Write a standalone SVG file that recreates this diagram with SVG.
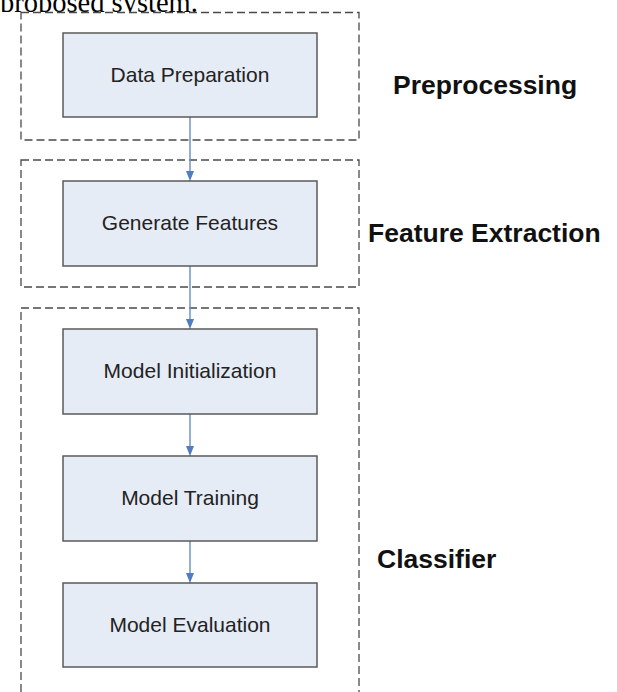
<svg xmlns="http://www.w3.org/2000/svg" width="617" height="692" viewBox="0 0 617 692">
  <style>
    .frame { fill: none; stroke: #4a4a4a; stroke-width: 1.3; stroke-dasharray: 8 4; }
    .box rect { fill: #E6ECF6; stroke: #5a5a5a; stroke-width: 1.5; }
    .box text { font-family: "Liberation Sans", Arial, sans-serif; font-size: 21px; fill: #222; text-anchor: middle; }
    .label { font-family: "Liberation Sans", Arial, sans-serif; font-size: 26.5px; font-weight: bold; fill: #111; }
    .conn { stroke: #6F93C8; stroke-width: 1.5; fill: none; marker-end: url(#arrow); }
  </style>
  <defs>
    <marker id="arrow" viewBox="0 0 8 10" refX="10" refY="4" markerWidth="8" markerHeight="10" markerUnits="userSpaceOnUse" orient="auto">
      <path d="M0,0 L10,4 L0,8 Z" fill="#4F7DC0"/>
    </marker>
    <clipPath id="topclip"><rect x="0" y="-20" width="617" height="32"/></clipPath>
  </defs>
  <rect x="0" y="0" width="617" height="692" fill="#fff"/>
  <text x="0" y="12" clip-path="url(#topclip)" font-family="'Liberation Serif', 'Times New Roman', serif" font-size="28.5" fill="#000">proposed system.</text>

  <g id="frames">
    <rect id="frame-preprocessing" class="frame" x="21" y="12.5" width="338" height="127.5"/>
    <rect id="frame-feature" class="frame" x="21" y="160" width="338" height="127"/>
    <rect id="frame-classifier" class="frame" x="21" y="308" width="338" height="400"/>
  </g>

  <g id="connectors">
    <line class="conn" x1="190" y1="117" x2="190" y2="181"/>
    <line class="conn" x1="190" y1="266" x2="190" y2="329"/>
    <line class="conn" x1="190" y1="414" x2="190" y2="456"/>
    <line class="conn" x1="190" y1="541" x2="190" y2="583"/>
  </g>

  <g id="data-preparation" class="box">
    <rect x="63" y="33" width="254" height="84"/>
    <text x="190" y="81.5">Data Preparation</text>
  </g>
  <g id="generate-features" class="box">
    <rect x="63" y="181" width="254" height="85"/>
    <text x="190" y="229.5">Generate Features</text>
  </g>
  <g id="model-initialization" class="box">
    <rect x="63" y="329" width="254" height="85"/>
    <text x="190" y="377.5">Model Initialization</text>
  </g>
  <g id="model-training" class="box">
    <rect x="63" y="456" width="254" height="85"/>
    <text x="190" y="504.5">Model Training</text>
  </g>
  <g id="model-evaluation" class="box">
    <rect x="63" y="583" width="254" height="84"/>
    <text x="190" y="631.5">Model Evaluation</text>
  </g>

  <g id="labels">
    <text class="label" x="393" y="94">Preprocessing</text>
    <text class="label" x="368" y="242">Feature Extraction</text>
    <text class="label" x="377" y="568">Classifier</text>
  </g>
</svg>
